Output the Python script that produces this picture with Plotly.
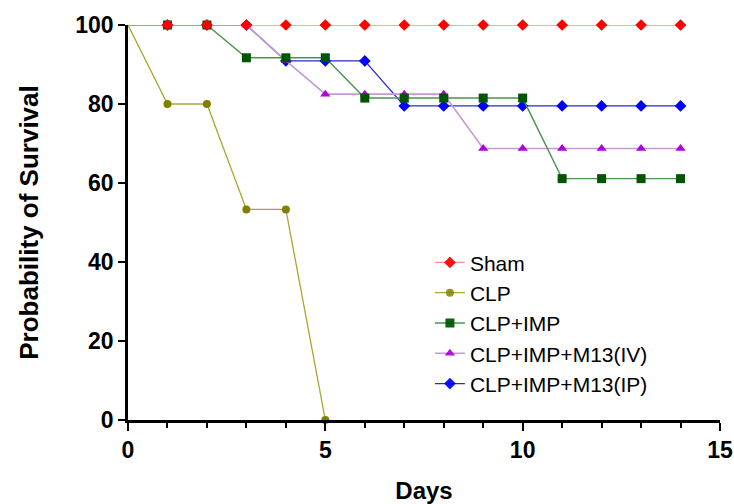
import plotly.graph_objects as go

days = list(range(0, 15))
sham = [100] * 15
clp_days = [0, 1, 2, 3, 4, 5]
clp = [100, 80, 80, 53.3, 53.3, 0]
imp = [100, 100, 100, 91.7, 91.7, 91.7, 81.5, 81.5, 81.5, 81.5, 81.5, 61.1, 61.1, 61.1, 61.1]
m13_iv = [100, 100, 100, 100, 91.0, 82.5, 82.5, 82.5, 82.5, 68.75, 68.75, 68.75, 68.75, 68.75, 68.75]
m13_ip = [100, 100, 100, 100, 90.9, 90.9, 90.9, 79.5, 79.5, 79.5, 79.5, 79.5, 79.5, 79.5, 79.5]

x_ticks = [0, 5, 10, 15]
y_ticks = [0, 20, 40, 60, 80, 100]

FONT = "Liberation Sans, Arial, sans-serif"


def hide_first(n):
    # no marker drawn at day 0
    return [0] + [1] * (n - 1)


def add(x, y, name, lcolor, lwidth, symbol, size, mcolor, rank):
    fig.add_trace(go.Scatter(
        x=x, y=y, name=name, mode="lines+markers",
        line=dict(color=lcolor, width=lwidth),
        marker=dict(symbol=symbol, size=size, color=mcolor,
                    opacity=hide_first(len(x)), line=dict(width=0)),
        legendrank=rank, cliponaxis=False))


fig = go.Figure()
add(days, m13_ip, "CLP+IMP+M13(IP)", "#2a2ac8", 1.3, "diamond", 9, "#0000ff", 5)
add(days, m13_iv, "CLP+IMP+M13(IV)", "#c49ad4", 1.6, "triangle-up", 9, "#b000e0", 4)
add(clp_days, clp, "CLP", "#a8a830", 1.3, "circle", 8, "#808000", 2)
add(days, imp, "CLP+IMP", "#4c944c", 1.4, "square", 9, "#005500", 3)
add(days, sham, "Sham", "#f09090", 1.4, "diamond", 9, "#ff0000", 1)

fig.update_layout(
    width=734, height=504,
    margin=dict(l=127.5, r=13.5, t=25, b=84),
    paper_bgcolor="white", plot_bgcolor="white",
    font=dict(family=FONT, color="black"),
    showlegend=True,
    legend=dict(x=0.51, y=0.45, xanchor="left", yanchor="top",
                font=dict(size=21, family=FONT, color="black"),
                bgcolor="rgba(0,0,0,0)", itemwidth=30),
)

fig.update_xaxes(
    range=[0, 15], tickvals=x_ticks, ticktext=[str(v) for v in x_ticks],
    showgrid=False, zeroline=False, automargin=False,
    showline=True, linecolor="black", linewidth=2.5,
    ticks="outside", ticklen=8, tickwidth=2, tickcolor="black",
    minor=dict(dtick=1, ticks="outside", ticklen=5, tickwidth=2, tickcolor="black", showgrid=False),
    tickfont=dict(size=23, family=FONT, weight="bold"),
    title=dict(text="<b>Days</b>", font=dict(size=24, family=FONT), standoff=30),
)
fig.update_yaxes(
    range=[0, 100], tickvals=y_ticks, ticktext=[str(v) for v in y_ticks],
    showgrid=False, zeroline=False, automargin=False,
    showline=True, linecolor="black", linewidth=2.5,
    ticks="outside", ticklen=7, tickwidth=2, tickcolor="black",
    tickfont=dict(size=23, family=FONT, weight="bold"),
    title=dict(text="<b>Probability of Survival</b>", font=dict(size=26, family=FONT), standoff=30),
)

fig.write_html("out.html", config={"displayModeBar": False},
               post_script="document.body.style.margin='0';")
